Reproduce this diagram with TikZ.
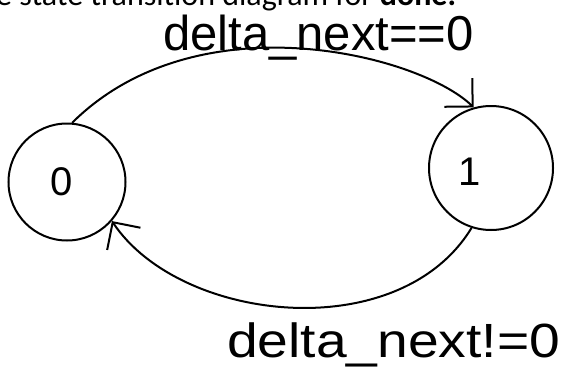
\documentclass[tikz,border=0pt]{standalone}
\usepackage{fontspec}
\setmainfont{Liberation Sans}
\newfontfamily\headfont{Carlito}
\usetikzlibrary{arrows.meta}
\begin{document}
\begin{tikzpicture}[x=1pt,y=-1pt,
  state/.style={circle,draw,line width=2pt,inner sep=0pt},
  digit/.style={inner sep=0pt,font=\fontsize{40}{40}\selectfont},
  edge/.style={line width=2pt,-{Straight Barb[length=20pt,width=40pt]}},
  hand/.style={inner sep=0pt,anchor=base west}]
\useasboundingbox (0,0) rectangle (577,369);
\clip (0,0) rectangle (577,369);
\node[anchor=base west,inner sep=0pt,font=\headfont\fontsize{32}{34}\selectfont] (head) at (-4,6) {e state transition diagram for \textbf{done.}};
\node[state,minimum size=117pt] (s0) at (67,182) {};
\node[state,minimum size=124pt] (s1) at (491,168) {};
\node[digit] (d0) at (62,182) {0};
\node[digit] (d1) at (470,172) {1};
\draw[edge] (s0.85) .. controls (198,-2) and (420,55) .. (s1.106);
\draw[edge] (s1.-108) .. controls (399,347) and (180,323) .. (s0.-41);
\node[hand,font=\fontsize{49}{49}\selectfont] (t01) at (163,50) {delta\_next==0};
\node[hand,font=\fontsize{48}{48}\selectfont] (t10) at (227,357) {\scalebox{1.15}[1]{delta\_next!=0}};
\end{tikzpicture}
\end{document}
